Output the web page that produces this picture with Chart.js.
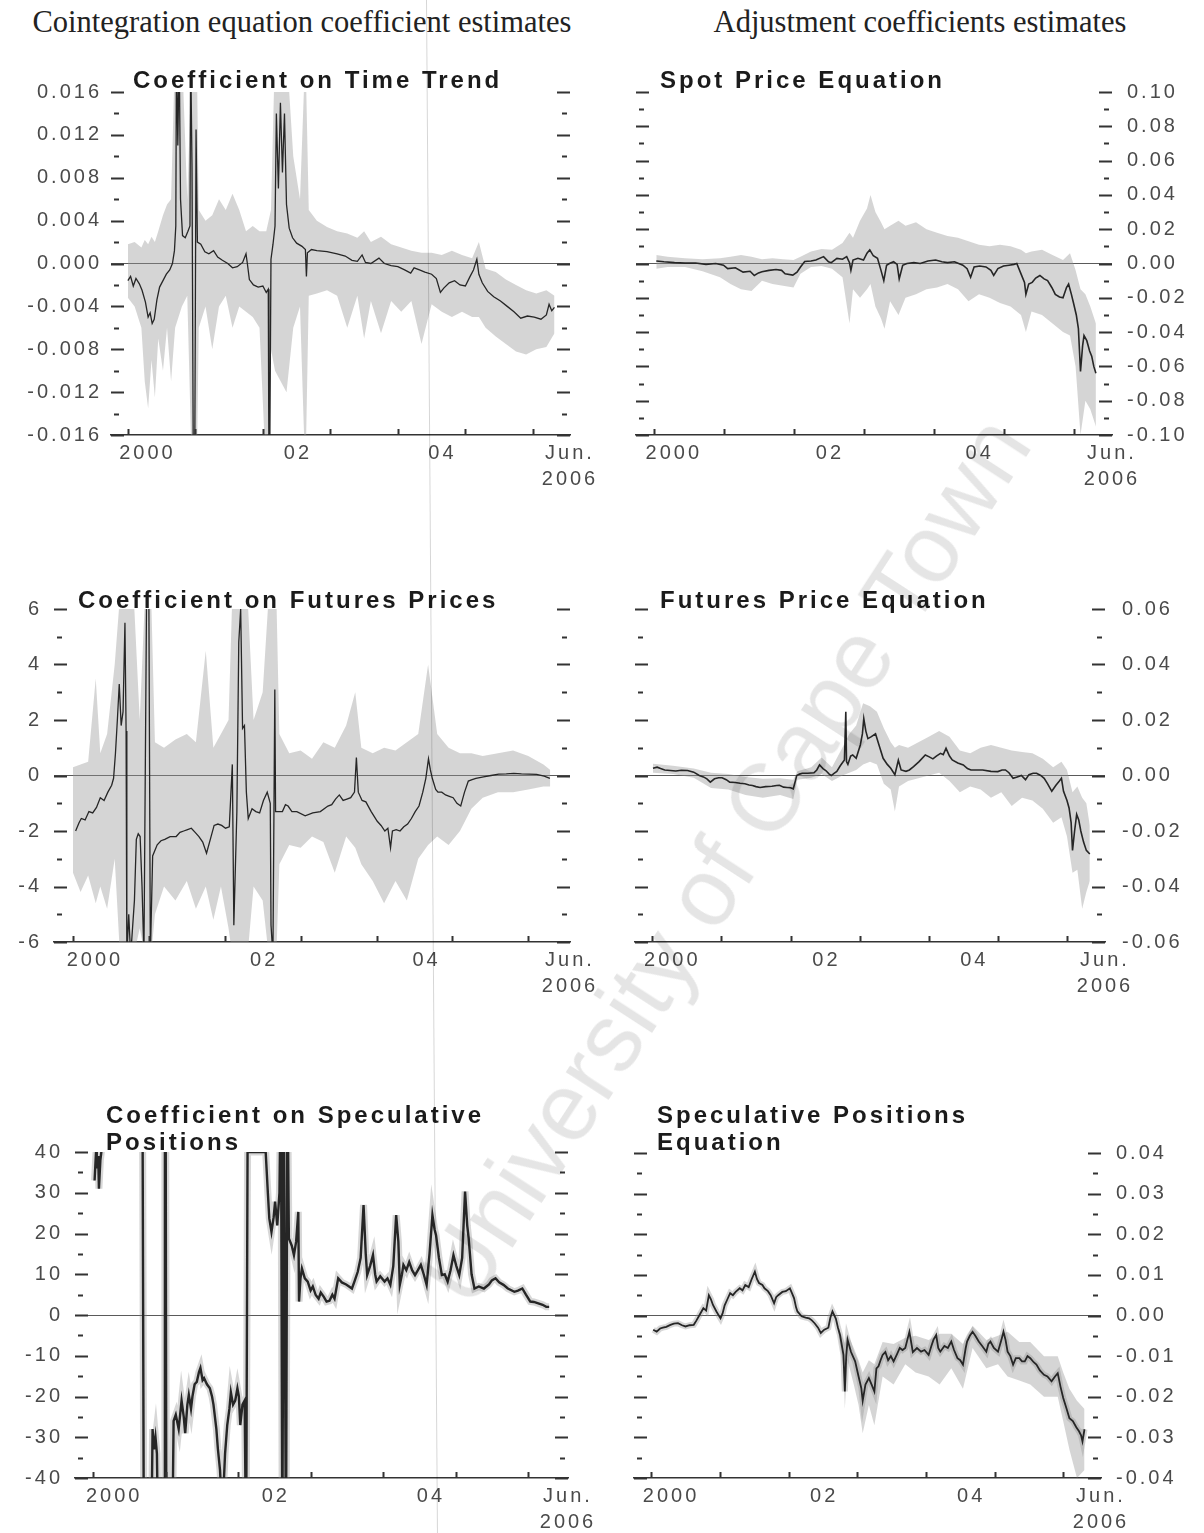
<!DOCTYPE html>
<html>
<head>
<meta charset="utf-8">
<script src="https://cdn.jsdelivr.net/npm/chart.js@4.4.1/dist/chart.umd.min.js"></script>
<style>
  body { margin: 0; background: #fff; width: 1204px; height: 1533px; position: relative; overflow: hidden; }
  canvas { position: absolute; }
  .head { position: absolute; top: 4px; font-family: "Liberation Serif", "Times New Roman", serif; font-size: 30.5px; line-height: 36px; color: #222; text-align: center; white-space: nowrap; }
  .ttl { position: absolute; font-family: "Liberation Sans", Arial, sans-serif; font-weight: bold; font-size: 24px; line-height: 27px; letter-spacing: 3px; color: #1b1b1b; white-space: nowrap; }
  .mark { position: absolute; left: 725px; top: 860px; transform: translate(-50%, -50%) rotate(-57deg); font-family: "Liberation Sans", Arial, sans-serif; font-size: 96px; color: rgba(0, 0, 0, 0.1); white-space: nowrap; pointer-events: none; }
  .fold { position: absolute; left: 426px; top: 0; width: 1px; height: 1533px; background: rgba(0, 0, 0, 0.16); transform-origin: top left; transform: rotate(-0.41deg); }
</style>
</head>
<body>
<div class="head" style="left:0;width:604px">Cointegration equation coefficient estimates</div>
<div class="head" style="left:640px;width:560px">Adjustment coefficients estimates</div>

<canvas id="c1" width="620" height="440" style="left:0;top:60px"></canvas>
<canvas id="c2" width="604" height="440" style="left:600px;top:60px"></canvas>
<canvas id="c3" width="620" height="420" style="left:0;top:580px"></canvas>
<canvas id="c4" width="604" height="420" style="left:600px;top:580px"></canvas>
<canvas id="c5" width="620" height="443" style="left:0;top:1090px"></canvas>
<canvas id="c6" width="604" height="443" style="left:600px;top:1090px"></canvas>

<div class="ttl" style="left:133px;top:66px">Coefficient on Time Trend</div>
<div class="ttl" style="left:660px;top:66px">Spot Price Equation</div>
<div class="ttl" style="left:78px;top:586px">Coefficient on Futures Prices</div>
<div class="ttl" style="left:660px;top:586px">Futures Price Equation</div>
<div class="ttl" style="left:106px;top:1101px">Coefficient on Speculative<br>Positions</div>
<div class="ttl" style="left:657px;top:1101px">Speculative Positions<br>Equation</div>

<div class="fold"></div>
<div class="mark">University of Cape Town</div>

<script>
// x axis labels and year tick marks
const xLabels = ['2000', '02', '04', ['Jun.', '2006']];
const xLabelAt = [2000.29, 2002.52, 2004.66, 2006.55];
const yearTicks = [2000, 2001, 2002, 2003, 2004, 2005, 2006];

// Coefficient on time trend
const trendX = [
  2000.00, 2000.04, 2000.08, 2000.12, 2000.17, 2000.21, 2000.26, 2000.30, 2000.33, 2000.36,
  2000.39, 2000.43, 2000.47, 2000.52, 2000.57, 2000.62, 2000.66, 2000.69, 2000.71, 2000.72,
  2000.74, 2000.76, 2000.78, 2000.81, 2000.85, 2000.89, 2000.92, 2000.93, 2000.95, 2000.97,
  2000.99, 2001.01, 2001.03, 2001.08, 2001.14, 2001.20, 2001.27, 2001.33, 2001.40, 2001.48,
  2001.55, 2001.62, 2001.70, 2001.75, 2001.77, 2001.80, 2001.86, 2001.93, 2002.00, 2002.05,
  2002.08, 2002.09, 2002.10, 2002.12, 2002.15, 2002.18, 2002.20, 2002.23, 2002.26, 2002.29,
  2002.32, 2002.35, 2002.39, 2002.44, 2002.50, 2002.58, 2002.63, 2002.645, 2002.66, 2002.72,
  2002.80, 2002.95, 2003.10, 2003.22, 2003.32, 2003.40, 2003.47, 2003.52, 2003.60, 2003.72,
  2003.80, 2003.90, 2004.00, 2004.10, 2004.19, 2004.24, 2004.32, 2004.40, 2004.50, 2004.57,
  2004.63, 2004.68, 2004.76, 2004.84, 2004.92, 2005.00, 2005.07, 2005.12, 2005.17, 2005.20,
  2005.25, 2005.33, 2005.42, 2005.52, 2005.62, 2005.72, 2005.82, 2005.92, 2006.02, 2006.12,
  2006.20, 2006.24, 2006.28, 2006.32
];
const trendLine = [
  -0.0016, -0.0012, -0.0021, -0.0014, -0.0019, -0.0025, -0.0036, -0.0050, -0.0046, -0.0056,
  -0.0052, -0.0034, -0.0022, -0.0016, -0.0010, -0.0006, 0.0000, 0.0012, 0.0035, 0.0200,
  0.0110, 0.0200, 0.0060, 0.0026, 0.0024, 0.0030, 0.0035, 0.0200, 0.0090, -0.0200,
  -0.0200, 0.0125, 0.0020, 0.0018, 0.0011, 0.0009, 0.0012, 0.0006, 0.0003, 0.0000,
  -0.0004, -0.0003, 0.0001, 0.0009, 0.0000, -0.0015, -0.0020, -0.0022, -0.0021, -0.0027,
  -0.0024, -0.0200, -0.0200, 0.0004, 0.0018, 0.0035, 0.0140, 0.0070, 0.0150, 0.0085,
  0.0140, 0.0055, 0.0033, 0.0024, 0.0019, 0.0016, 0.0013, -0.0012, 0.0010, 0.0013,
  0.0012, 0.0011, 0.0009, 0.0007, 0.0003, 0.0002, 0.0008, 0.0001, 0.0000, 0.0005,
  0.0000, -0.0002, -0.0003, -0.0006, -0.0009, -0.0004, -0.0006, -0.0008, -0.0010, -0.0014,
  -0.0027, -0.0023, -0.0018, -0.0016, -0.0020, -0.0021, -0.0012, -0.0006, 0.0004, -0.0010,
  -0.0018, -0.0026, -0.0031, -0.0035, -0.0040, -0.0045, -0.0051, -0.0049, -0.0050, -0.0052,
  -0.0048, -0.0038, -0.0044, -0.0041
];
const trendBandX = [
  2000.00, 2000.10, 2000.20, 2000.25, 2000.30, 2000.35, 2000.40, 2000.45, 2000.52, 2000.58,
  2000.64, 2000.70, 2000.80, 2000.88, 2000.95, 2001.02, 2001.05, 2001.15, 2001.25, 2001.35,
  2001.45, 2001.55, 2001.65, 2001.75, 2001.85, 2001.95, 2002.05, 2002.12, 2002.18, 2002.35,
  2002.45, 2002.55, 2002.63, 2002.68, 2002.80, 2002.95, 2003.10, 2003.25, 2003.40, 2003.50,
  2003.60, 2003.75, 2003.90, 2004.05, 2004.20, 2004.35, 2004.50, 2004.65, 2004.80, 2004.95,
  2005.10, 2005.20, 2005.30, 2005.45, 2005.60, 2005.75, 2005.90, 2006.05, 2006.20, 2006.32
];
const trendUpper = [
  0.0018, 0.0020, 0.0015, 0.0022, 0.0018, 0.0025, 0.0020, 0.0030, 0.0045, 0.0055,
  0.0060, 0.0200, 0.0200, 0.0060, 0.0200, 0.0200, 0.0050, 0.0040, 0.0045, 0.0060,
  0.0050, 0.0065, 0.0050, 0.0030, 0.0035, 0.0030, 0.0030, 0.0050, 0.0200, 0.0200,
  0.0100, 0.0060, 0.0200, 0.0050, 0.0040, 0.0034, 0.0030, 0.0028, 0.0024, 0.0030,
  0.0020, 0.0025, 0.0018, 0.0015, 0.0012, 0.0010, 0.0010, 0.0008, 0.0012, 0.0008,
  0.0005, 0.0020, -0.0005, -0.0008, -0.0015, -0.0020, -0.0025, -0.0028, -0.0025, -0.0030
];
const trendLower = [
  -0.0032, -0.0040, -0.0060, -0.0110, -0.0135, -0.0090, -0.0125, -0.0070, -0.0100, -0.0060,
  -0.0110, -0.0060, -0.0040, -0.0030, -0.0200, -0.0200, -0.0060, -0.0040, -0.0080, -0.0040,
  -0.0030, -0.0060, -0.0040, -0.0045, -0.0050, -0.0060, -0.0200, -0.0080, -0.0100, -0.0120,
  -0.0060, -0.0040, -0.0200, -0.0030, -0.0028, -0.0025, -0.0030, -0.0060, -0.0030, -0.0070,
  -0.0035, -0.0065, -0.0035, -0.0045, -0.0035, -0.0075, -0.0038, -0.0045, -0.0050, -0.0045,
  -0.0050, -0.0050, -0.0060, -0.0068, -0.0075, -0.0082, -0.0085, -0.0080, -0.0078, -0.0065
];

// Spot price equation
const spotX = [
  2000.04, 2000.15, 2000.30, 2000.45, 2000.60, 2000.75, 2000.89, 2001.00, 2001.06, 2001.17,
  2001.28, 2001.38, 2001.44, 2001.50, 2001.55, 2001.65, 2001.75, 2001.83, 2001.88, 2001.99,
  2002.05, 2002.10, 2002.16, 2002.25, 2002.32, 2002.43, 2002.50, 2002.54, 2002.62, 2002.70,
  2002.76, 2002.80, 2002.82, 2002.85, 2002.92, 2003.00, 2003.05, 2003.09, 2003.14, 2003.20,
  2003.25, 2003.29, 2003.33, 2003.37, 2003.43, 2003.48, 2003.51, 2003.56, 2003.62, 2003.72,
  2003.81, 2003.92, 2004.03, 2004.12, 2004.20, 2004.30, 2004.42, 2004.48, 2004.53, 2004.58,
  2004.66, 2004.75, 2004.82, 2004.86, 2004.92, 2005.00, 2005.08, 2005.15, 2005.19, 2005.24,
  2005.30, 2005.32, 2005.36, 2005.41, 2005.46, 2005.52, 2005.58, 2005.63, 2005.69, 2005.74,
  2005.80, 2005.85, 2005.90, 2005.93, 2005.97, 2006.00, 2006.04, 2006.07, 2006.10, 2006.13,
  2006.15, 2006.19, 2006.23, 2006.26, 2006.29, 2006.32
];
const spotLine = [
  0.0015, 0.0010, 0.0005, 0.0002, 0.0003, -0.0005, 0.0000, -0.0010, -0.0030, -0.0025,
  -0.0050, -0.0045, -0.0070, -0.0055, -0.0048, -0.0040, -0.0035, -0.0040, -0.0060, -0.0068,
  -0.0050, -0.0020, 0.0012, 0.0015, 0.0020, 0.0040, 0.0010, 0.0005, 0.0030, 0.0025,
  0.0040, 0.0005, -0.0040, 0.0020, 0.0030, 0.0020, 0.0060, 0.0080, 0.0045, 0.0030,
  -0.0040, -0.0100, -0.0010, 0.0000, 0.0010, -0.0005, -0.0090, -0.0010, 0.0000, 0.0005,
  0.0000, 0.0015, 0.0020, 0.0010, 0.0005, 0.0010, -0.0010, -0.0030, -0.0080, -0.0020,
  -0.0015, -0.0020, -0.0040, -0.0070, -0.0030, -0.0015, -0.0010, -0.0005, 0.0000, -0.0050,
  -0.0110, -0.0180, -0.0120, -0.0110, -0.0085, -0.0070, -0.0090, -0.0100, -0.0140, -0.0180,
  -0.0195, -0.0200, -0.0140, -0.0120, -0.0180, -0.0230, -0.0300, -0.0380, -0.0630, -0.0480,
  -0.0420, -0.0450, -0.0510, -0.0540, -0.0600, -0.0640
];
const spotBandX = [
  2000.04, 2000.20, 2000.45, 2000.70, 2000.95, 2001.10, 2001.25, 2001.40, 2001.55, 2001.70,
  2001.85, 2002.00, 2002.10, 2002.25, 2002.40, 2002.55, 2002.70, 2002.80, 2002.85, 2002.95,
  2003.05, 2003.10, 2003.17, 2003.25, 2003.30, 2003.38, 2003.50, 2003.60, 2003.75, 2003.90,
  2004.05, 2004.20, 2004.35, 2004.50, 2004.65, 2004.80, 2004.95, 2005.10, 2005.25, 2005.32,
  2005.40, 2005.55, 2005.70, 2005.85, 2005.95, 2006.03, 2006.10, 2006.17, 2006.24, 2006.32
];
const spotUpper = [
  0.0050, 0.0040, 0.0030, 0.0025, 0.0030, 0.0040, 0.0050, 0.0040, 0.0025, 0.0030,
  0.0025, 0.0020, 0.0040, 0.0070, 0.0085, 0.0080, 0.0120, 0.0180, 0.0150, 0.0250,
  0.0320, 0.0400, 0.0300, 0.0240, 0.0200, 0.0220, 0.0250, 0.0220, 0.0240, 0.0200,
  0.0180, 0.0160, 0.0150, 0.0130, 0.0110, 0.0100, 0.0110, 0.0100, 0.0080, 0.0060,
  0.0070, 0.0080, 0.0050, 0.0020, 0.0060, -0.0040, -0.0150, -0.0180, -0.0250, -0.0350
];
const spotLower = [
  -0.0030, -0.0020, -0.0020, -0.0045, -0.0080, -0.0120, -0.0150, -0.0160, -0.0100, -0.0120,
  -0.0130, -0.0140, -0.0060, -0.0020, -0.0015, -0.0030, -0.0080, -0.0350, -0.0150, -0.0200,
  -0.0150, -0.0120, -0.0250, -0.0320, -0.0380, -0.0220, -0.0300, -0.0200, -0.0180, -0.0150,
  -0.0140, -0.0120, -0.0150, -0.0220, -0.0180, -0.0200, -0.0230, -0.0250, -0.0300, -0.0400,
  -0.0280, -0.0300, -0.0350, -0.0400, -0.0420, -0.0600, -0.1000, -0.0800, -0.0850, -0.0950
];

// Coefficient on futures prices
const futX = [
  2000.035, 2000.08, 2000.11, 2000.16, 2000.21, 2000.26, 2000.31, 2000.36, 2000.41, 2000.46,
  2000.51, 2000.535, 2000.56, 2000.585, 2000.61, 2000.635, 2000.66, 2000.685, 2000.70, 2000.71,
  2000.735, 2000.76, 2000.81, 2000.835, 2000.86, 2000.885, 2000.91, 2000.935, 2000.97, 2001.00,
  2001.02, 2001.05, 2001.11, 2001.16, 2001.21, 2001.28, 2001.36, 2001.41, 2001.46, 2001.51,
  2001.56, 2001.61, 2001.66, 2001.71, 2001.76, 2001.81, 2001.86, 2001.91, 2001.96, 2002.01,
  2002.06, 2002.10, 2002.12, 2002.16, 2002.185, 2002.21, 2002.235, 2002.26, 2002.285, 2002.31,
  2002.36, 2002.41, 2002.46, 2002.51, 2002.56, 2002.60, 2002.61, 2002.635, 2002.66, 2002.67,
  2002.72, 2002.76, 2002.80, 2002.835, 2002.885, 2002.95, 2003.06, 2003.16, 2003.26, 2003.36,
  2003.41, 2003.46, 2003.51, 2003.56, 2003.61, 2003.66, 2003.71, 2003.735, 2003.76, 2003.81,
  2003.86, 2003.93, 2004.01, 2004.06, 2004.11, 2004.15, 2004.185, 2004.21, 2004.26, 2004.31,
  2004.36, 2004.41, 2004.46, 2004.51, 2004.56, 2004.61, 2004.65, 2004.685, 2004.71, 2004.735,
  2004.78, 2004.81, 2004.86, 2004.91, 2004.96, 2005.01, 2005.06, 2005.11, 2005.16, 2005.21,
  2005.26, 2005.31, 2005.41, 2005.51, 2005.61, 2005.71, 2005.81, 2005.91, 2006.01, 2006.11,
  2006.21, 2006.285
];
const futLine = [
  -2.0, -1.7, -1.55, -1.6, -1.3, -1.35, -1.15, -0.8, -0.9, -0.6,
  -0.35, -0.1, 0.8, 2.0, 3.3, 1.8, 2.3, 5.5, 1.6, -6.5,
  -5.0, -6.5, -4.5, -2.3, -2.1, -2.2, -4.0, -6.5, 6.5, 6.5,
  -6.5, -2.9, -2.5, -2.35, -2.3, -2.2, -2.2, -2.05, -2.0, -1.95,
  -1.9, -2.05, -2.2, -2.4, -2.8, -2.3, -1.8, -1.75, -1.8, -1.9,
  -1.85, 0.4, -5.4, -1.3, 4.8, 6.0, 1.7, 1.8, -0.6, -1.55,
  -1.2, -1.3, -1.35, -0.9, -0.6, -1.0, -5.4, -6.5, 3.1, -1.3,
  -1.3, -1.3, -1.05, -1.1, -1.3, -1.3, -1.45, -1.35, -1.3, -1.1,
  -1.05, -0.85, -0.7, -0.9, -0.85, -0.8, -0.6, 0.65, -0.6, -0.9,
  -0.95, -1.3, -1.65, -1.8, -2.0, -1.9, -2.6, -2.0, -1.95, -2.0,
  -1.85, -1.75, -1.55, -1.3, -1.1, -0.6, -0.1, 0.6, 0.2, -0.1,
  -0.5, -0.6, -0.6, -0.7, -0.75, -0.8, -1.0, -1.1, -0.6, -0.2,
  -0.15, -0.1, -0.05, 0.0, 0.05, 0.06, 0.08, 0.06, 0.05, 0.04,
  -0.02, -0.1
];
const futBandX = [
  2000.00, 2000.10, 2000.20, 2000.30, 2000.36, 2000.45, 2000.55, 2000.62, 2000.80, 2000.88,
  2000.95, 2001.03, 2001.08, 2001.20, 2001.35, 2001.50, 2001.62, 2001.75, 2001.85, 2001.95,
  2002.05, 2002.10, 2002.30, 2002.38, 2002.50, 2002.58, 2002.68, 2002.72, 2002.85, 2003.00,
  2003.15, 2003.30, 2003.45, 2003.60, 2003.72, 2003.80, 2003.95, 2004.10, 2004.25, 2004.40,
  2004.55, 2004.68, 2004.80, 2004.95, 2005.10, 2005.25, 2005.40, 2005.60, 2005.80, 2006.00,
  2006.20, 2006.29
];
const futUpper = [
  0.3, 0.4, 0.5, 3.5, 0.8, 1.5, 4.0, 6.5, 6.5, 2.0,
  6.5, 6.5, 1.2, 1.0, 1.3, 1.5, 1.2, 4.5, 1.0, 1.5,
  2.0, 6.5, 6.5, 2.0, 3.0, 6.5, 6.5, 1.5, 0.8, 0.9,
  0.6, 1.2, 1.0, 1.8, 3.0, 1.0, 0.8, 1.0, 0.9, 1.2,
  1.5, 4.0, 1.5, 1.0, 0.8, 0.8, 0.7, 0.8, 0.9, 0.7,
  0.4, 0.2
];
const futLower = [
  -3.5, -4.2, -3.6, -4.6, -4.0, -4.8, -3.0, -6.5, -6.5, -5.5,
  -6.5, -6.5, -5.0, -4.0, -4.5, -3.8, -4.8, -4.0, -5.2, -4.0,
  -5.5, -6.5, -6.5, -4.0, -4.5, -6.5, -6.5, -3.2, -2.5, -2.6,
  -2.2, -2.4, -3.5, -2.2, -2.6, -3.2, -3.8, -4.6, -3.8, -4.5,
  -3.0, -2.5, -2.2, -2.5, -2.0, -1.2, -0.8, -0.6, -0.6, -0.5,
  -0.4, -0.4
];

// Futures price equation
const futEqX = [
  2000.01, 2000.07, 2000.12, 2000.18, 2000.26, 2000.34, 2000.42, 2000.51, 2000.60, 2000.68,
  2000.74, 2000.79, 2000.84, 2000.90, 2000.96, 2001.01, 2001.07, 2001.12, 2001.20, 2001.27,
  2001.34, 2001.40, 2001.45, 2001.50, 2001.56, 2001.64, 2001.73, 2001.80, 2001.84, 2001.90,
  2001.95, 2002.00, 2002.04, 2002.07, 2002.09, 2002.13, 2002.17, 2002.25, 2002.34, 2002.38,
  2002.42, 2002.47, 2002.51, 2002.56, 2002.59, 2002.63, 2002.67, 2002.72, 2002.78, 2002.80,
  2002.81, 2002.83, 2002.87, 2002.90, 2002.95, 2003.01, 2003.04, 2003.06, 2003.09, 2003.12,
  2003.17, 2003.23, 2003.28, 2003.34, 2003.40, 2003.45, 2003.51, 2003.56, 2003.60, 2003.67,
  2003.72, 2003.78, 2003.86, 2003.95, 2004.00, 2004.06, 2004.11, 2004.17, 2004.21, 2004.25,
  2004.30, 2004.34, 2004.42, 2004.50, 2004.56, 2004.61, 2004.70, 2004.78, 2004.90, 2005.00,
  2005.06, 2005.11, 2005.16, 2005.22, 2005.28, 2005.34, 2005.40, 2005.45, 2005.51, 2005.56,
  2005.62, 2005.67, 2005.72, 2005.78, 2005.84, 2005.89, 2005.92, 2005.95, 2006.00, 2006.03,
  2006.06, 2006.08, 2006.11, 2006.14, 2006.17, 2006.20, 2006.24, 2006.28, 2006.33
];
const futEqLine = [
  0.0026, 0.0030, 0.0025, 0.0020, 0.0018, 0.0016, 0.0019, 0.0018, 0.0012, 0.0000,
  -0.0005, -0.0012, -0.0024, -0.0012, -0.0008, -0.0008, -0.0015, -0.0024, -0.0025, -0.0028,
  -0.0030, -0.0034, -0.0036, -0.0040, -0.0043, -0.0040, -0.0039, -0.0036, -0.0035, -0.0042,
  -0.0043, -0.0044, -0.0048, -0.0020, 0.0000, 0.0005, 0.0008, 0.0008, 0.0010, 0.0020,
  0.0038, 0.0025, 0.0018, 0.0005, 0.0000, 0.0008, 0.0015, 0.0035, 0.0056, 0.0230,
  0.0050, 0.0040, 0.0070, 0.0074, 0.0062, 0.0110, 0.0150, 0.0205, 0.0160, 0.0133,
  0.0140, 0.0150, 0.0110, 0.0062, 0.0040, 0.0026, 0.0003, 0.0055, 0.0020, 0.0015,
  0.0020, 0.0032, 0.0050, 0.0074, 0.0068, 0.0060, 0.0070, 0.0080, 0.0075, 0.0098,
  0.0070, 0.0056, 0.0045, 0.0038, 0.0025, 0.0020, 0.0020, 0.0020, 0.0015, 0.0014,
  0.0020, 0.0020, 0.0010, -0.0010, -0.0005, 0.0000, -0.0015, 0.0003, 0.0008, 0.0008,
  0.0000, -0.0010, -0.0030, -0.0057, -0.0035, -0.0020, -0.0010, -0.0057, -0.0090, -0.0117,
  -0.0170, -0.0270, -0.0200, -0.0140, -0.0160, -0.0200, -0.0240, -0.0270, -0.0283
];
const futEqBandX = [
  2000.01, 2000.30, 2000.60, 2000.85, 2001.10, 2001.35, 2001.60, 2001.85, 2002.04, 2002.10,
  2002.30, 2002.45, 2002.60, 2002.75, 2002.85, 2002.95, 2003.05, 2003.15, 2003.25, 2003.35,
  2003.45, 2003.51, 2003.57, 2003.70, 2003.85, 2004.00, 2004.15, 2004.30, 2004.45, 2004.60,
  2004.75, 2004.90, 2005.05, 2005.20, 2005.35, 2005.50, 2005.65, 2005.80, 2005.92, 2006.00,
  2006.08, 2006.15, 2006.22, 2006.28, 2006.33
];
const futEqUpper = [
  0.0042, 0.0035, 0.0025, 0.0010, 0.0005, -0.0005, -0.0012, -0.0010, -0.0015, 0.0015,
  0.0030, 0.0065, 0.0030, 0.0100, 0.0150, 0.0180, 0.0260, 0.0250, 0.0230, 0.0170,
  0.0120, 0.0100, 0.0110, 0.0100, 0.0120, 0.0140, 0.0160, 0.0140, 0.0090, 0.0080,
  0.0100, 0.0110, 0.0100, 0.0090, 0.0085, 0.0080, 0.0060, 0.0030, 0.0050, 0.0020,
  -0.0060, -0.0040, -0.0080, -0.0100, -0.0180
];
const futEqLower = [
  0.0010, 0.0005, -0.0008, -0.0045, -0.0050, -0.0070, -0.0080, -0.0070, -0.0085, -0.0015,
  -0.0008, 0.0005, -0.0020, 0.0000, 0.0010, 0.0020, 0.0040, 0.0050, 0.0040, -0.0030,
  -0.0050, -0.0130, -0.0040, -0.0020, -0.0010, 0.0000, 0.0010, -0.0020, -0.0060, -0.0040,
  -0.0050, -0.0080, -0.0060, -0.0110, -0.0080, -0.0090, -0.0120, -0.0170, -0.0150, -0.0220,
  -0.0350, -0.0340, -0.0480, -0.0420, -0.0380
];

// Coefficient on speculative positions
const specX = [
  2000.02, 2000.04, 2000.05, 2000.07, 2000.08, 2000.10, 2000.12, 2000.14, 2000.68, 2000.70,
  2000.80, 2000.82, 2000.84, 2000.86, 2000.88, 2000.90, 2000.98, 2000.99, 2001.00, 2001.01,
  2001.09, 2001.11, 2001.14, 2001.18, 2001.22, 2001.25, 2001.27, 2001.30, 2001.32, 2001.35,
  2001.37, 2001.40, 2001.43, 2001.46, 2001.48, 2001.51, 2001.53, 2001.57, 2001.61, 2001.64,
  2001.66, 2001.70, 2001.72, 2001.75, 2001.77, 2001.80, 2001.82, 2001.85, 2001.88, 2001.90,
  2001.93, 2001.96, 2001.99, 2002.01, 2002.03, 2002.06, 2002.09, 2002.11, 2002.13, 2002.38,
  2002.41, 2002.43, 2002.46, 2002.49, 2002.51, 2002.54, 2002.57, 2002.59, 2002.61, 2002.63,
  2002.66, 2002.68, 2002.70, 2002.74, 2002.77, 2002.80, 2002.83, 2002.84, 2002.86, 2002.88,
  2002.92, 2002.96, 2003.00, 2003.03, 2003.07, 2003.11, 2003.14, 2003.18, 2003.22, 2003.26,
  2003.30, 2003.33, 2003.36, 2003.38, 2003.43, 2003.49, 2003.53, 2003.57, 2003.61, 2003.65,
  2003.69, 2003.73, 2003.76, 2003.78, 2003.82, 2003.86, 2003.89, 2003.91, 2003.96, 2004.02,
  2004.06, 2004.10, 2004.14, 2004.18, 2004.21, 2004.23, 2004.26, 2004.28, 2004.32, 2004.36,
  2004.40, 2004.44, 2004.48, 2004.52, 2004.56, 2004.60, 2004.64, 2004.68, 2004.71, 2004.73,
  2004.77, 2004.81, 2004.85, 2004.89, 2004.93, 2004.97, 2005.01, 2005.05, 2005.09, 2005.13,
  2005.16, 2005.18, 2005.22, 2005.26, 2005.32, 2005.39, 2005.46, 2005.50, 2005.55, 2005.60,
  2005.66, 2005.72, 2005.81, 2005.86, 2005.92, 2005.97, 2006.03, 2006.08, 2006.13, 2006.20,
  2006.25, 2006.29
];
const specLine = [
  33, 40, 36, 39, 31, 38, 41, 60, 60, -60,
  -60, -28, -33, -30, -34, -60, -60, 60, 60, -60,
  -60, -26, -24.5, -28, -21, -25, -29, -22, -19.6, -23,
  -20, -17, -16.4, -14, -13, -16, -15.5, -17, -18, -20,
  -22, -28, -32.7, -38, -45, -42, -34, -27, -23, -19,
  -22, -21, -18, -20, -27, -22, -21, -60, 40, 40,
  30, 23.7, 20.4, 24, 27.8, 22, 30, 60, -60, 60,
  -60, 60, 18.8, 17, 14.7, 18, 25.3, 3.3, 9, 11.4,
  9, 8.2, 6, 7, 4.9, 4, 5.5, 4.5, 3.3, 3.5,
  5, 4, 7, 9, 8, 7.5, 7, 6.5, 8.5, 10.6,
  14, 27, 15, 9.8, 12, 14.7, 10, 8.2, 9.5, 8.2,
  9, 7.4, 12, 24.5, 18, 7.4, 10, 12.3, 11, 13,
  11, 9.8, 11, 12.3, 10, 7.4, 15, 24.5, 21, 19.6,
  14, 9.8, 10, 8.2, 11, 14.7, 12, 9.8, 14, 30.3,
  22, 18.8, 10, 6.5, 7, 6.5, 7.5, 8.5, 9, 8,
  7.4, 6.5, 5.7, 6, 6.5, 5, 3.3, 3.2, 2.9, 2.5,
  2.0, 2.0
];

// Speculative positions equation
const specEqX = [
  2000.03, 2000.08, 2000.13, 2000.17, 2000.22, 2000.28, 2000.33, 2000.39, 2000.45, 2000.50,
  2000.56, 2000.62, 2000.66, 2000.70, 2000.76, 2000.80, 2000.84, 2000.87, 2000.90, 2000.95,
  2001.01, 2001.04, 2001.07, 2001.11, 2001.15, 2001.19, 2001.23, 2001.29, 2001.33, 2001.37,
  2001.42, 2001.46, 2001.51, 2001.54, 2001.57, 2001.62, 2001.65, 2001.70, 2001.74, 2001.79,
  2001.82, 2001.85, 2001.91, 2001.96, 2002.02, 2002.05, 2002.08, 2002.11, 2002.13, 2002.19,
  2002.25, 2002.30, 2002.34, 2002.38, 2002.43, 2002.47, 2002.52, 2002.58, 2002.61, 2002.64,
  2002.69, 2002.72, 2002.75, 2002.80, 2002.82, 2002.84, 2002.86, 2002.91, 2002.97, 2003.02,
  2003.06, 2003.08, 2003.12, 2003.17, 2003.21, 2003.25, 2003.28, 2003.31, 2003.34, 2003.37,
  2003.41, 2003.45, 2003.49, 2003.53, 2003.58, 2003.62, 2003.66, 2003.70, 2003.73, 2003.76,
  2003.79, 2003.81, 2003.87, 2003.93, 2003.98, 2004.04, 2004.08, 2004.11, 2004.15, 2004.18,
  2004.21, 2004.27, 2004.32, 2004.37, 2004.41, 2004.46, 2004.50, 2004.54, 2004.58, 2004.60,
  2004.64, 2004.68, 2004.72, 2004.77, 2004.82, 2004.88, 2004.91, 2004.94, 2004.99, 2005.05,
  2005.10, 2005.13, 2005.16, 2005.19, 2005.23, 2005.27, 2005.31, 2005.36, 2005.40, 2005.44,
  2005.48, 2005.52, 2005.57, 2005.61, 2005.66, 2005.72, 2005.77, 2005.83, 2005.88, 2005.92,
  2005.96, 2006.00, 2006.05, 2006.09, 2006.14, 2006.19, 2006.23, 2006.26, 2006.28, 2006.31
];
const specEqLine = [
  -0.0035, -0.0040, -0.0032, -0.0030, -0.0028, -0.0023, -0.0020, -0.0019, -0.0024, -0.0027,
  -0.0024, -0.0023, -0.0012, 0.0000, 0.0018, 0.0012, 0.0050, 0.0040, 0.0026, 0.0010,
  -0.0007, 0.0005, 0.0025, 0.0040, 0.0055, 0.0050, 0.0058, 0.0067, 0.0062, 0.0075,
  0.0070, 0.0088, 0.0108, 0.0090, 0.0080, 0.0075, 0.0067, 0.0060, 0.0050, 0.0030,
  0.0045, 0.0050, 0.0058, 0.0060, 0.0067, 0.0055, 0.0043, 0.0020, 0.0010, -0.0002,
  -0.0005, -0.0007, -0.0012, -0.0019, -0.0030, -0.0043, -0.0035, -0.0030, -0.0005, 0.0010,
  -0.0008, -0.0030, -0.0048, -0.0097, -0.0187, -0.0100, -0.0060, -0.0090, -0.0113, -0.0150,
  -0.0179, -0.0210, -0.0170, -0.0154, -0.0170, -0.0187, -0.0130, -0.0125, -0.0110, -0.0097,
  -0.0090, -0.0110, -0.0100, -0.0113, -0.0095, -0.0080, -0.0085, -0.0080, -0.0060, -0.0040,
  -0.0070, -0.0090, -0.0080, -0.0089, -0.0085, -0.0097, -0.0075, -0.0060, -0.0048, -0.0080,
  -0.0089, -0.0075, -0.0080, -0.0064, -0.0085, -0.0105, -0.0110, -0.0121, -0.0080, -0.0064,
  -0.0050, -0.0040, -0.0050, -0.0064, -0.0075, -0.0089, -0.0070, -0.0064, -0.0080, -0.0089,
  -0.0060, -0.0040, -0.0060, -0.0089, -0.0100, -0.0121, -0.0105, -0.0105, -0.0113, -0.0113,
  -0.0100, -0.0105, -0.0115, -0.0121, -0.0135, -0.0146, -0.0150, -0.0162, -0.0150, -0.0142,
  -0.0175, -0.0203, -0.0230, -0.0253, -0.0260, -0.0275, -0.0285, -0.0295, -0.0310, -0.0280
];
const specEqBandX = [
  2002.72, 2002.80, 2002.82, 2002.86, 2002.95, 2003.02, 2003.08, 2003.17, 2003.25, 2003.37,
  2003.53, 2003.70, 2003.85, 2004.04, 2004.20, 2004.37, 2004.54, 2004.68, 2004.88, 2005.05,
  2005.19, 2005.36, 2005.52, 2005.72, 2005.92, 2006.00, 2006.09, 2006.20, 2006.31
];
const specEqUpper = [
  -0.0025, -0.0060, -0.0070, -0.0045, -0.0080, -0.0110, -0.0140, -0.0110, -0.0120, -0.0065,
  -0.0070, -0.0055, -0.0050, -0.0060, -0.0045, -0.0045, -0.0070, -0.0025, -0.0060, -0.0050,
  -0.0040, -0.0065, -0.0065, -0.0100, -0.0100, -0.0140, -0.0180, -0.0210, -0.0230
];
const specEqLower = [
  -0.0040, -0.0130, -0.0230, -0.0110, -0.0170, -0.0220, -0.0290, -0.0220, -0.0270, -0.0150,
  -0.0170, -0.0120, -0.0140, -0.0150, -0.0170, -0.0130, -0.0180, -0.0080, -0.0130, -0.0120,
  -0.0150, -0.0160, -0.0170, -0.0200, -0.0200, -0.0260, -0.0330, -0.0400, -0.0380
];

Chart.defaults.font.family = '"Liberation Sans", Arial, sans-serif';

function pts(xs, ys) {
  return xs.map((x, i) => ({ x: x, y: ys[i] }));
}

// short tick marks drawn inward from the plot edges, like the printed figure
const inTicks = {
  id: 'inTicks',
  afterDraw(chart, args, opts) {
    const { ctx, chartArea: a, scales: { x, y } } = chart;
    ctx.save();
    ctx.strokeStyle = '#333';
    ctx.lineWidth = 2;
    ctx.beginPath();
    const n = Math.round((y.max - y.min) / opts.minor);
    for (let i = 0; i <= n; i++) {
      const py = Math.round(y.getPixelForValue(y.min + i * opts.minor)) + 0.5;
      const len = i % 2 ? 5 : 13;
      const off = i % 2 ? 3 : 0;
      ctx.moveTo(a.left + off, py);
      ctx.lineTo(a.left + off + len, py);
      ctx.moveTo(a.right - off - len, py);
      ctx.lineTo(a.right - off, py);
    }
    yearTicks.forEach(v => {
      const px = Math.round(x.getPixelForValue(v)) + 0.5;
      ctx.moveTo(px, a.bottom);
      ctx.lineTo(px, a.bottom - 6);
    });
    ctx.stroke();
    ctx.restore();
  }
};

const spacing = {
  id: 'spacing',
  beforeUpdate(chart) { chart.ctx.letterSpacing = '3px'; },
  beforeDraw(chart) { chart.ctx.letterSpacing = '3px'; }
};

function panel(cfg) {
  const canvas = document.getElementById(cfg.id);
  const b = cfg.box, a = cfg.area;
  const onLeft = cfg.side === 'left';
  const yWidth = onLeft ? a.L - b.left : b.left + b.width - a.R;
  const xHeight = b.top + b.height - a.B;

  const datasets = [{
    data: pts(cfg.x, cfg.line), borderColor: '#262626', borderWidth: cfg.lw,
    pointRadius: 0, fill: false, tension: 0
  }];
  if (cfg.halo) {
    datasets.push({
      data: pts(cfg.x, cfg.line), borderColor: 'rgba(140,140,140,0.35)', borderWidth: cfg.halo,
      pointRadius: 0, fill: false
    });
  }
  if (cfg.bx) {
    datasets.push({
      data: pts(cfg.bx, cfg.up), borderWidth: 0, pointRadius: 0,
      fill: '+1', backgroundColor: 'rgba(150,150,150,0.4)'
    });
    datasets.push({ data: pts(cfg.bx, cfg.lo), borderWidth: 0, pointRadius: 0, fill: false });
  }

  new Chart(canvas, {
    type: 'line',
    data: { datasets: datasets },
    options: {
      responsive: false,
      animation: false,
      devicePixelRatio: 1,
      layout: {
        autoPadding: false,
        padding: {
          left: onLeft ? 0 : a.L - b.left,
          right: onLeft ? b.left + b.width - a.R : 0,
          top: a.T - b.top,
          bottom: 0
        }
      },
      plugins: {
        legend: { display: false },
        tooltip: { enabled: false },
        inTicks: { minor: cfg.minor }
      },
      scales: {
        x: {
          type: 'linear',
          min: 1999.75,
          max: 2006.55,
          afterFit: s => { s.height = xHeight; },
          afterBuildTicks: s => { s.ticks = xLabelAt.map(v => ({ value: v })); },
          ticks: {
            autoSkip: false, maxRotation: 0, padding: 5, color: '#4a4a4a',
            font: { size: 20, lineHeight: 1.3 },
            callback: (v, i) => xLabels[i]
          },
          grid: { display: false, drawTicks: false },
          border: { display: true, color: '#333', width: 1.5 }
        },
        y: {
          position: cfg.side,
          min: -cfg.lim,
          max: cfg.lim,
          afterFit: s => { s.width = yWidth; },
          ticks: {
            stepSize: cfg.major, padding: cfg.pad, color: '#4a4a4a',
            font: { size: 20 },
            callback: v => v.toFixed(cfg.dec)
          },
          grid: {
            drawTicks: false,
            lineWidth: 1,
            color: c => (c.tick && Math.abs(c.tick.value) < 1e-9 ? '#5a5a5a' : 'rgba(0,0,0,0)')
          },
          border: { display: false }
        }
      }
    },
    plugins: [spacing, inTicks]
  });
}

panel({ id: 'c1', box: { left: 0, top: 60, width: 620, height: 440 }, area: { L: 111, R: 570, T: 92, B: 435 },
  side: 'left', lim: 0.016, major: 0.004, minor: 0.002, dec: 3, pad: 9, lw: 1.3,
  x: trendX, line: trendLine, bx: trendBandX, up: trendUpper, lo: trendLower });

panel({ id: 'c2', box: { left: 600, top: 60, width: 604, height: 440 }, area: { L: 636, R: 1112, T: 92, B: 435 },
  side: 'right', lim: 0.10, major: 0.02, minor: 0.01, dec: 2, pad: 15, lw: 1.6,
  x: spotX, line: spotLine, bx: spotBandX, up: spotUpper, lo: spotLower });

panel({ id: 'c3', box: { left: 0, top: 580, width: 620, height: 420 }, area: { L: 54, R: 570, T: 609, B: 942 },
  side: 'left', lim: 6, major: 2, minor: 1, dec: 0, pad: 12, lw: 1.3,
  x: futX, line: futLine, bx: futBandX, up: futUpper, lo: futLower });

panel({ id: 'c4', box: { left: 600, top: 580, width: 604, height: 420 }, area: { L: 635, R: 1105, T: 609, B: 942 },
  side: 'right', lim: 0.06, major: 0.02, minor: 0.01, dec: 2, pad: 17, lw: 1.6,
  x: futEqX, line: futEqLine, bx: futEqBandX, up: futEqUpper, lo: futEqLower });

panel({ id: 'c5', box: { left: 0, top: 1090, width: 620, height: 443 }, area: { L: 75, R: 568, T: 1152, B: 1478 },
  side: 'left', lim: 40, major: 10, minor: 5, dec: 0, pad: 12, lw: 2.4, halo: 7,
  x: specX, line: specLine });

panel({ id: 'c6', box: { left: 600, top: 1090, width: 604, height: 443 }, area: { L: 634, R: 1101, T: 1153, B: 1478 },
  side: 'right', lim: 0.04, major: 0.01, minor: 0.005, dec: 2, pad: 15, lw: 1.8, halo: 6,
  x: specEqX, line: specEqLine, bx: specEqBandX, up: specEqUpper, lo: specEqLower });
</script>
</body>
</html>
